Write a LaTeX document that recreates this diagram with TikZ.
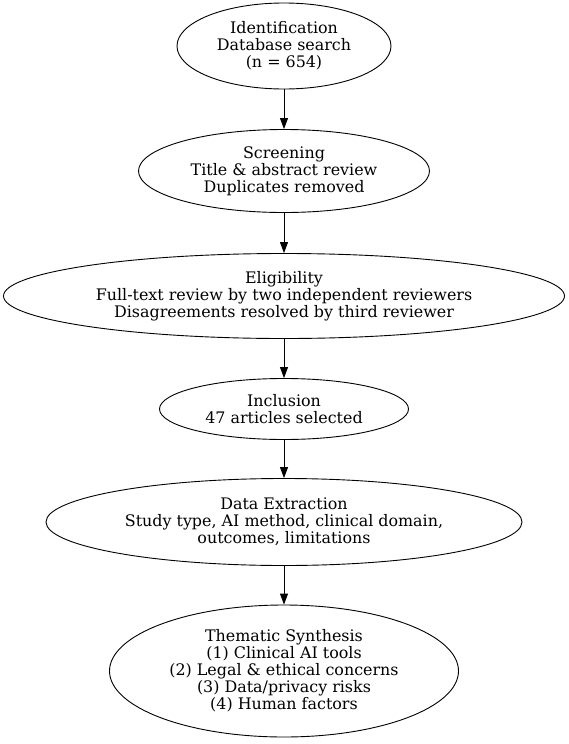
\documentclass[tikz,border=0pt]{standalone}
\usepackage{fontspec}
\setmainfont{DejaVu Serif}
\usetikzlibrary{shapes.geometric,arrows.meta}
\begin{document}
\begin{tikzpicture}[x=1pt,y=-1pt,
  box/.style={draw,ellipse,inner sep=0pt,align=center,line width=0.9pt,
    font=\fontsize{15.9}{17}\selectfont},
  conn/.style={-{Triangle[length=11pt,width=8pt]},line width=0.9pt}]
\useasboundingbox (0,0) rectangle (569,744);
\node[box,minimum width=214pt,minimum height=86pt] (id) at (284,46) {Identification\\Database search\\(n = 654)};
\node[box,minimum width=291pt,minimum height=83pt] (sc) at (284,171) {Screening\\Title \& abstract review\\Duplicates removed};
\node[box,minimum width=561pt,minimum height=85pt] (el) at (284,296) {Eligibility\\Full-text review by two independent reviewers\\Disagreements resolved by third reviewer};
\node[box,minimum width=249pt,minimum height=61pt] (in) at (284,409) {Inclusion\\47 articles selected};
\node[box,minimum width=476pt,minimum height=87pt] (de) at (284,522) {Data Extraction\\Study type, AI method, clinical domain,\\outcomes, limitations};
\node[box,minimum width=349pt,minimum height=132pt] (th) at (284,671) {Thematic Synthesis\\(1) Clinical AI tools\\(2) Legal \& ethical concerns\\(3) Data/privacy risks\\(4) Human factors};
\draw[conn] (id) -- (sc);
\draw[conn] (sc) -- (el);
\draw[conn] (el) -- (in);
\draw[conn] (in) -- (de);
\draw[conn] (de) -- (th);
\end{tikzpicture}
\end{document}
